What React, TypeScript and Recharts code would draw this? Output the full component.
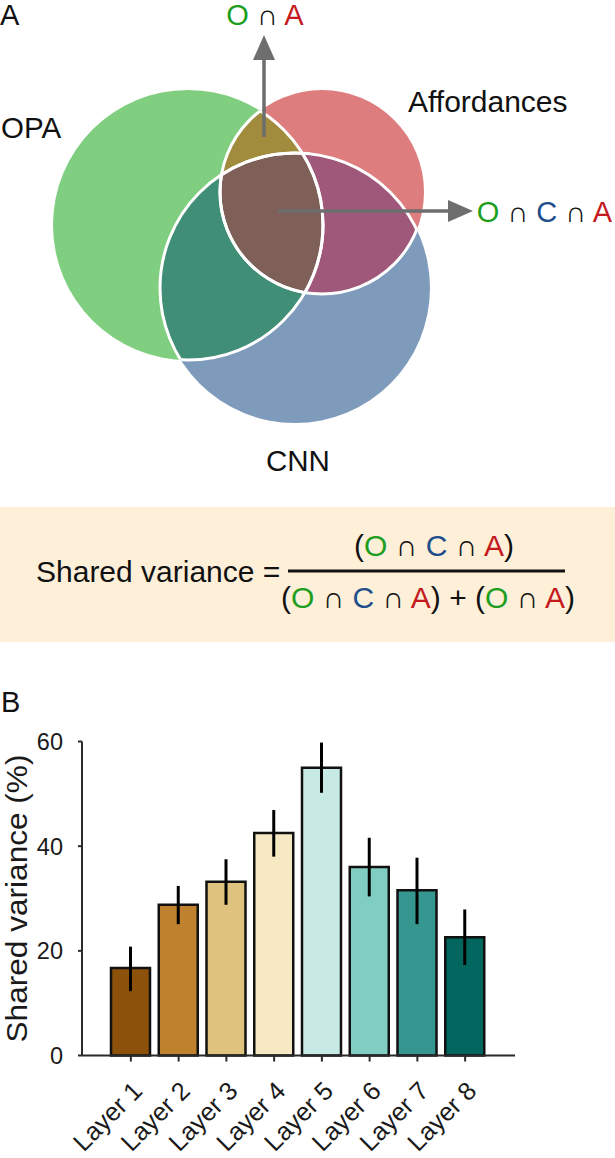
import React from "react"
import { ScatterChart, Scatter, XAxis, YAxis, ReferenceLine, BarChart, Bar, Cell, ErrorBar, Label } from "recharts"

const FONT = '"Liberation Sans", Arial, Helvetica, sans-serif'

// panel A: venn sets (units of the top panel)
const vennSets = ["O", "A", "C"]
const vennCx = [188, 322, 295]
const vennCy = [225, 192, 288]
const vennR = [135, 102, 135]
const vennFill = ["#80CF80", "#DE7D7D", "#7F9BBB"]

const overlapSets = [["O", "A"], ["O", "C"], ["A", "C"], ["O", "A", "C"]]
const overlapFill = ["#A08C3C", "#408E76", "#A0587A", "#7E6058"]

// arrows (from -> to)
const arrowFrom = [[264, 137], [278, 211]]
const arrowTo = [[264, 35], [473, 211]]

// panel B
const layers = ["Layer 1", "Layer 2", "Layer 3", "Layer 4", "Layer 5", "Layer 6", "Layer 7", "Layer 8"]
const sharedVar = [16.7, 28.8, 33.2, 42.5, 55.0, 36.0, 31.6, 22.6]
const errLow = [12.3, 25.1, 28.8, 38.0, 50.2, 30.4, 25.1, 17.3]
const errHigh = [20.8, 32.4, 37.5, 46.9, 59.8, 41.6, 37.8, 27.9]
const layerColors = ["#8C510A", "#BF812D", "#DFC27D", "#F6E8C3", "#C7EAE5", "#80CDC1", "#35978F", "#01665E"]
const yTicks = [0, 20, 40, 60]

const GREEN = "#1E9E1E"
const BLUE = "#1F4E8C"
const RED = "#C41A1E"
const ARROW = "#6E6E6E"

const VENN_W = 615
const VENN_H = 490
const VENN_XMAX = 615
const VENN_YMAX = 490
const KX = VENN_W / VENN_XMAX
const KY = VENN_H / VENN_YMAX

const circleRows = vennSets.map((set, i) => ({ set, x: vennCx[i], y: vennCy[i], r: vennR[i], fill: vennFill[i] }))
const overlapRows = overlapSets.map((sets, i) => {
  const idx = sets.map(s => vennSets.indexOf(s))
  return {
    sets,
    x: idx.reduce((a, j) => a + vennCx[j], 0) / idx.length,
    y: idx.reduce((a, j) => a + vennCy[j], 0) / idx.length,
    fill: overlapFill[i],
  }
})

const barData = layers.map((name, i) => ({
  name,
  value: sharedVar[i],
  err: [sharedVar[i] - errLow[i], errHigh[i] - sharedVar[i]],
}))

const CircleShape = (p: any) => {
  const { cx, cy, payload } = p
  const rx = payload.r * KX
  const ry = payload.r * KY
  return (
    <g>
      <defs>
        <clipPath id={`venn-${payload.set}`}>
          <ellipse cx={cx} cy={cy} rx={rx} ry={ry} />
        </clipPath>
      </defs>
      <ellipse cx={cx} cy={cy} rx={rx} ry={ry} fill={payload.fill} />
    </g>
  )
}

const OverlapShape = (p: any) => {
  const { payload } = p
  let node = <rect x={0} y={0} width={VENN_W} height={VENN_H} fill={payload.fill} />
  payload.sets.forEach((s: string) => {
    node = <g clipPath={`url(#venn-${s})`}>{node}</g>
  })
  return node
}

// white borders: each circle's edge where it runs inside another circle
const OutlineShape = (p: any) => {
  const { cx, cy, payload } = p
  const rx = payload.r * KX
  const ry = payload.r * KY
  return (
    <g>
      {vennSets.filter(s => s !== payload.set).map(s => (
        <g key={s} clipPath={`url(#venn-${s})`}>
          <ellipse cx={cx} cy={cy} rx={rx} ry={ry} fill="none" stroke="#fff" strokeWidth={3} />
        </g>
      ))}
    </g>
  )
}

const ArrowShape = (p: any) => {
  const { x1, y1, x2, y2 } = p
  const dx = x2 - x1
  const dy = y2 - y1
  const len = Math.hypot(dx, dy) || 1
  const ux = dx / len
  const uy = dy / len
  const head = 25
  const half = 11
  const bx = x2 - ux * head
  const by = y2 - uy * head
  return (
    <g>
      <line x1={x1} y1={y1} x2={bx} y2={by} stroke={ARROW} strokeWidth={3.5} />
      <polygon
        points={`${x2},${y2} ${bx - uy * half},${by + ux * half} ${bx + uy * half},${by - ux * half}`}
        fill={ARROW}
      />
    </g>
  )
}

const LayerTick = (props: any) => {
  const { x, y, payload } = props
  const ax = x + 13
  const ay = y + 31
  return (
    <text x={ax} y={ay} transform={`rotate(-45, ${ax}, ${ay})`} textAnchor="end" fontSize={25.5} fill="#1a1a1a" fontFamily={FONT}>
      {payload.value}
    </text>
  )
}

const YLabel = (props: any) => {
  const vb = props.viewBox || { x: 0, y: 41.5, width: 82, height: 314 }
  const cy = vb.y + vb.height / 2
  const x = 27
  return (
    <text x={x} y={cy} transform={`rotate(-90, ${x}, ${cy})`} textAnchor="middle" fontSize={30} fill="#1a1a1a" fontFamily={FONT} textLength={288} lengthAdjust="spacingAndGlyphs">
      Shared variance (%)
    </text>
  )
}

export default function App() {
  return (
    <div style={{ position: "absolute", left: 0, top: 0, width: 615, height: 1158, background: "#fff", fontFamily: FONT }}>
      <div style={{ position: "absolute", left: 0, top: 0 }}>
        <ScatterChart width={VENN_W} height={VENN_H} margin={{ top: 0, right: 0, bottom: 0, left: 0 }}>
          <XAxis type="number" dataKey="x" domain={[0, VENN_XMAX]} hide />
          <YAxis type="number" dataKey="y" domain={[0, VENN_YMAX]} reversed hide />
          <Scatter data={circleRows} shape={CircleShape} isAnimationActive={false} />
          <Scatter data={overlapRows} shape={OverlapShape} isAnimationActive={false} />
          <Scatter data={circleRows} shape={OutlineShape} isAnimationActive={false} />
          {arrowFrom.map((f, i) => (
            <ReferenceLine
              key={i}
              segment={[{ x: f[0], y: f[1] }, { x: arrowTo[i][0], y: arrowTo[i][1] }]}
              shape={ArrowShape}
              zIndex={1000}
            />
          ))}
        </ScatterChart>
      </div>

      <div style={{ position: "absolute", left: 0, top: 700 }}>
        <BarChart width={615} height={458} data={barData} margin={{ top: 41.5, right: 100, bottom: 2.5, left: 0 }}>
          <XAxis
            dataKey="name"
            interval={0}
            padding={{ left: 25, right: 26 }}
            axisLine={{ stroke: "#2a2a2a", strokeWidth: 2 }}
            tickLine={{ stroke: "#2a2a2a", strokeWidth: 2 }}
            tickSize={6}
            tickMargin={0}
            height={100}
            tick={LayerTick}
          />
          <YAxis
            domain={[0, 60]}
            ticks={yTicks}
            width={82}
            axisLine={{ stroke: "#2a2a2a", strokeWidth: 2 }}
            tickLine={{ stroke: "#2a2a2a", strokeWidth: 2 }}
            tickSize={4}
            tickMargin={15}
            tick={{ fontSize: 23.5, fill: "#1a1a1a", fontFamily: FONT }}
          >
            <Label content={YLabel} />
          </YAxis>
          <Bar dataKey="value" barSize={39} stroke="#111" strokeWidth={2.5} isAnimationActive={false}>
            {layerColors.map((c, i) => (
              <Cell key={i} fill={c} />
            ))}
            <ErrorBar dataKey="err" width={0} stroke="#000" strokeWidth={3} direction="y" />
          </Bar>
        </BarChart>
      </div>

      <svg width={615} height={1158} style={{ position: "absolute", left: 0, top: 0, pointerEvents: "none", zIndex: 5 }} fontFamily={FONT}>
        <text x={0} y={25} fontSize={29} fill="#111">A</text>
        <text x={265} y={25} textAnchor="middle" fontSize={29} fill="#111">
          <tspan fill={GREEN}>O</tspan> ∩ <tspan fill={RED}>A</tspan>
        </text>
        <text x={1} y={138} fontSize={29.5} fill="#111">OPA</text>
        <text x={408} y={112} fontSize={30} fill="#111">Affordances</text>
        <text x={266} y={471} fontSize={29.5} fill="#111">CNN</text>
        <text x={612} y={222} textAnchor="end" fontSize={29} fill="#111">
          <tspan fill={GREEN}>O</tspan> ∩ <tspan fill={BLUE}>C</tspan> ∩ <tspan fill={RED}>A</tspan>
        </text>

        <rect x={0} y={507} width={615} height={135} fill="#FDEFD8" />
        <text x={36} y={582} fontSize={30} fill="#111">Shared variance =</text>
        <text x={434} y={556} textAnchor="middle" fontSize={30} fill="#111">
          (<tspan fill={GREEN}>O</tspan> ∩ <tspan fill={BLUE}>C</tspan> ∩ <tspan fill={RED}>A</tspan>)
        </text>
        <line x1={288} x2={565} y1={571} y2={571} stroke="#111" strokeWidth={3} />
        <text x={428} y={608} textAnchor="middle" fontSize={30} fill="#111">
          (<tspan fill={GREEN}>O</tspan> ∩ <tspan fill={BLUE}>C</tspan> ∩ <tspan fill={RED}>A</tspan>) + (<tspan fill={GREEN}>O</tspan> ∩ <tspan fill={RED}>A</tspan>)
        </text>
        <text x={1} y={712} fontSize={29} fill="#111">B</text>
      </svg>
    </div>
  )
}
